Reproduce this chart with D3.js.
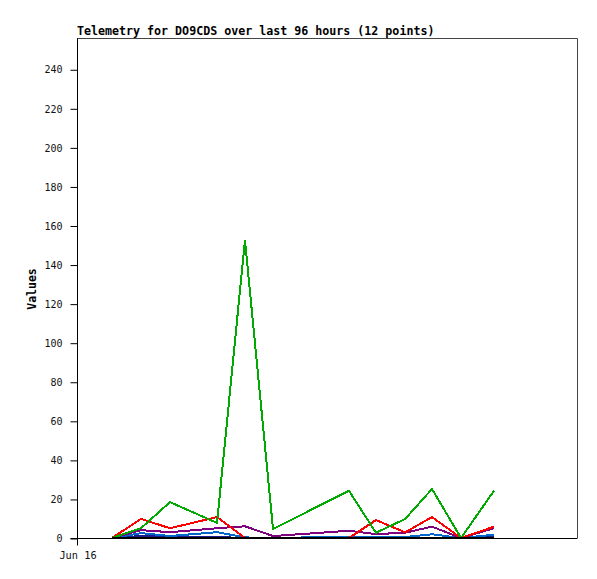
<!DOCTYPE html>
<html><head><meta charset="utf-8">
<script src="https://cdn.jsdelivr.net/npm/d3@7"></script>
<style>body{margin:0;background:#fff}svg{display:block}</style>
</head><body>
<svg id="c" width="597" height="579"></svg>
<script>
const times = ["2024-06-16T06:43","2024-06-16T12:17","2024-06-16T17:51","2024-06-17T02:53","2024-06-17T08:15","2024-06-17T13:38","2024-06-18T04:13","2024-06-18T09:24","2024-06-18T14:59","2024-06-18T20:10","2024-06-19T01:44","2024-06-19T08:04"];
const seriesBlack  = [0,0,0,0,0,0,0,0,0,0,0,0];
const seriesNavy   = [0,1,0.5,0.5,0,0,0,0,0,0,0,0.5];
const seriesBlue   = [0,2.5,1,3,0.3,0,0.7,0.5,0.5,1.9,0,1.7];
const seriesPurple = [0,4,3,5,6,1,3.7,2,2.7,5.8,0,5];
const seriesRed    = [0,9.8,5,10.7,0,0,0,9.2,2.9,10.7,0,5.8];
const seriesGreen  = [0,5,18.4,7.7,152.5,4.6,24.2,2.7,9.7,25.1,0,24.2];
const yTicks = [0,20,40,60,80,100,120,140,160,180,200,220,240];
const xTickLabels = ["Jun 16"];
const xTickDates = ["2024-06-16T00:00"];

const series = [
  {name:"navy", color:"#1a1a8c", values:seriesNavy},
  {name:"blue", color:"#0066cc", values:seriesBlue},
  {name:"purple", color:"#7f007f", values:seriesPurple},
  {name:"red", color:"#ff0000", values:seriesRed},
  {name:"green", color:"#00aa00", values:seriesGreen},
  {name:"black", color:"#000000", values:seriesBlack}
];

const parse = d3.isoParse;
const svg = d3.select("#c");
const L=77, T=38, R=577, B=538;
const x = d3.scaleTime().domain([parse("2024-06-16T00:00"), parse("2024-06-20T00:00")]).range([L,R]);
const y = d3.scaleLinear().domain([0,256]).range([B,T]);
const mono = "'DejaVu Sans Mono', 'Liberation Mono', monospace";

svg.append("path").attr("d",`M${L},${T+0.5}H${R+0.5}V${B}`).attr("fill","none").attr("stroke","#444").attr("stroke-width",1);

const yAxis = d3.axisLeft(y).tickValues(yTicks).tickSize(7).tickPadding(8).tickSizeOuter(0);
const gy = svg.append("g").attr("transform",`translate(${L+0.5},0.5)`).call(yAxis);
gy.select(".domain").attr("stroke","#000").attr("d",`M0,${T}V${B+7}`);
gy.selectAll("line").attr("stroke","#000");
gy.selectAll("text").attr("font-family",mono).attr("font-size","10px").attr("fill","#111");

const xAxis = d3.axisBottom(x).tickValues(xTickDates.map(parse)).tickFormat((d,i)=>xTickLabels[i]).tickSize(0).tickPadding(13).tickSizeOuter(0);
const gx = svg.append("g").attr("transform",`translate(0.5,${B+0.5})`).call(xAxis);
gx.select(".domain").attr("stroke","#000").attr("d",`M${L-7},0H${R}`);
gx.selectAll("text").attr("font-family",mono).attr("font-size","10.3px").attr("fill","#111");

const line = d3.line().x((d,i)=>x(parse(times[i]))).y(d=>y(d));
series.forEach(s=>{
  svg.append("path").datum(s.values).attr("d",line).attr("fill","none")
    .attr("stroke",s.color).attr("stroke-width",2).attr("stroke-linejoin","miter")
    .attr("shape-rendering","crispEdges");
});

svg.append("text").attr("x",L).attr("y",35).attr("font-family",mono).attr("font-weight","bold")
  .attr("font-size","11.65px").attr("fill","#000").text("Telemetry for DO9CDS over last 96 hours (12 points)");
svg.append("text").attr("transform",`translate(36,${(T+B)/2+1}) rotate(-90)`).attr("text-anchor","middle")
  .attr("font-family",mono).attr("font-weight","bold").attr("font-size","11.5px").attr("fill","#000").text("Values");
</script>
</body></html>
